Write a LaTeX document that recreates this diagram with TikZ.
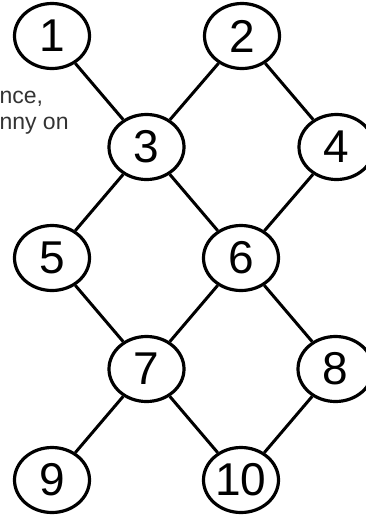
\documentclass[tikz,border=0pt]{standalone}
\usepackage{fontspec}
\setmainfont{Liberation Sans}
\usepackage{tikz}
\usetikzlibrary{positioning,shapes.geometric}

\begin{document}
\begin{tikzpicture}[
  x=1pt, y=1pt,
  on grid,
  node distance=111pt and 94.5pt,
  every node/.style={font=\fontsize{46}{46}\selectfont},
  num/.style={draw=black, fill=white, line width=3.2pt, ellipse, inner sep=0pt, minimum width=75pt, minimum height=65pt},
  note/.style={anchor=base west, text=black!80, font=\fontsize{23}{26}\selectfont},
  link/.style={line width=3pt, black}
]
  \useasboundingbox (0,0) rectangle (366,-515);

  % Text
  \node (linea) [note] at (-4,-103) {nce,};
  \node (lineb) [note] at (-4,-129) {nny on};

  % Nodes
  \node (n1) [num] at (52,-36) {1};
  \node (n2) [num, right=190pt of n1] {2};
  \node (n3) [num, below right=of n1] {3};
  \node (n4) [num, below right=of n2] {4};
  \node (n5) [num, below left=of n3] {5};
  \node (n6) [num, below right=of n3] {6};
  \node (n7) [num, below left=of n6] {7};
  \node (n8) [num, below right=of n6] {8};
  \node (n9) [num, below left=of n7] {9};
  \node (n10) [num, below right=of n7] {10};

  % Paths
  \draw [link] (n1) -- (n3);
  \draw [link] (n2) -- (n3);
  \draw [link] (n2) -- (n4);
  \draw [link] (n3) -- (n5);
  \draw [link] (n3) -- (n6);
  \draw [link] (n4) -- (n6);
  \draw [link] (n5) -- (n7);
  \draw [link] (n6) -- (n7);
  \draw [link] (n6) -- (n8);
  \draw [link] (n7) -- (n9);
  \draw [link] (n7) -- (n10);
  \draw [link] (n8) -- (n10);
\end{tikzpicture}
\end{document}
